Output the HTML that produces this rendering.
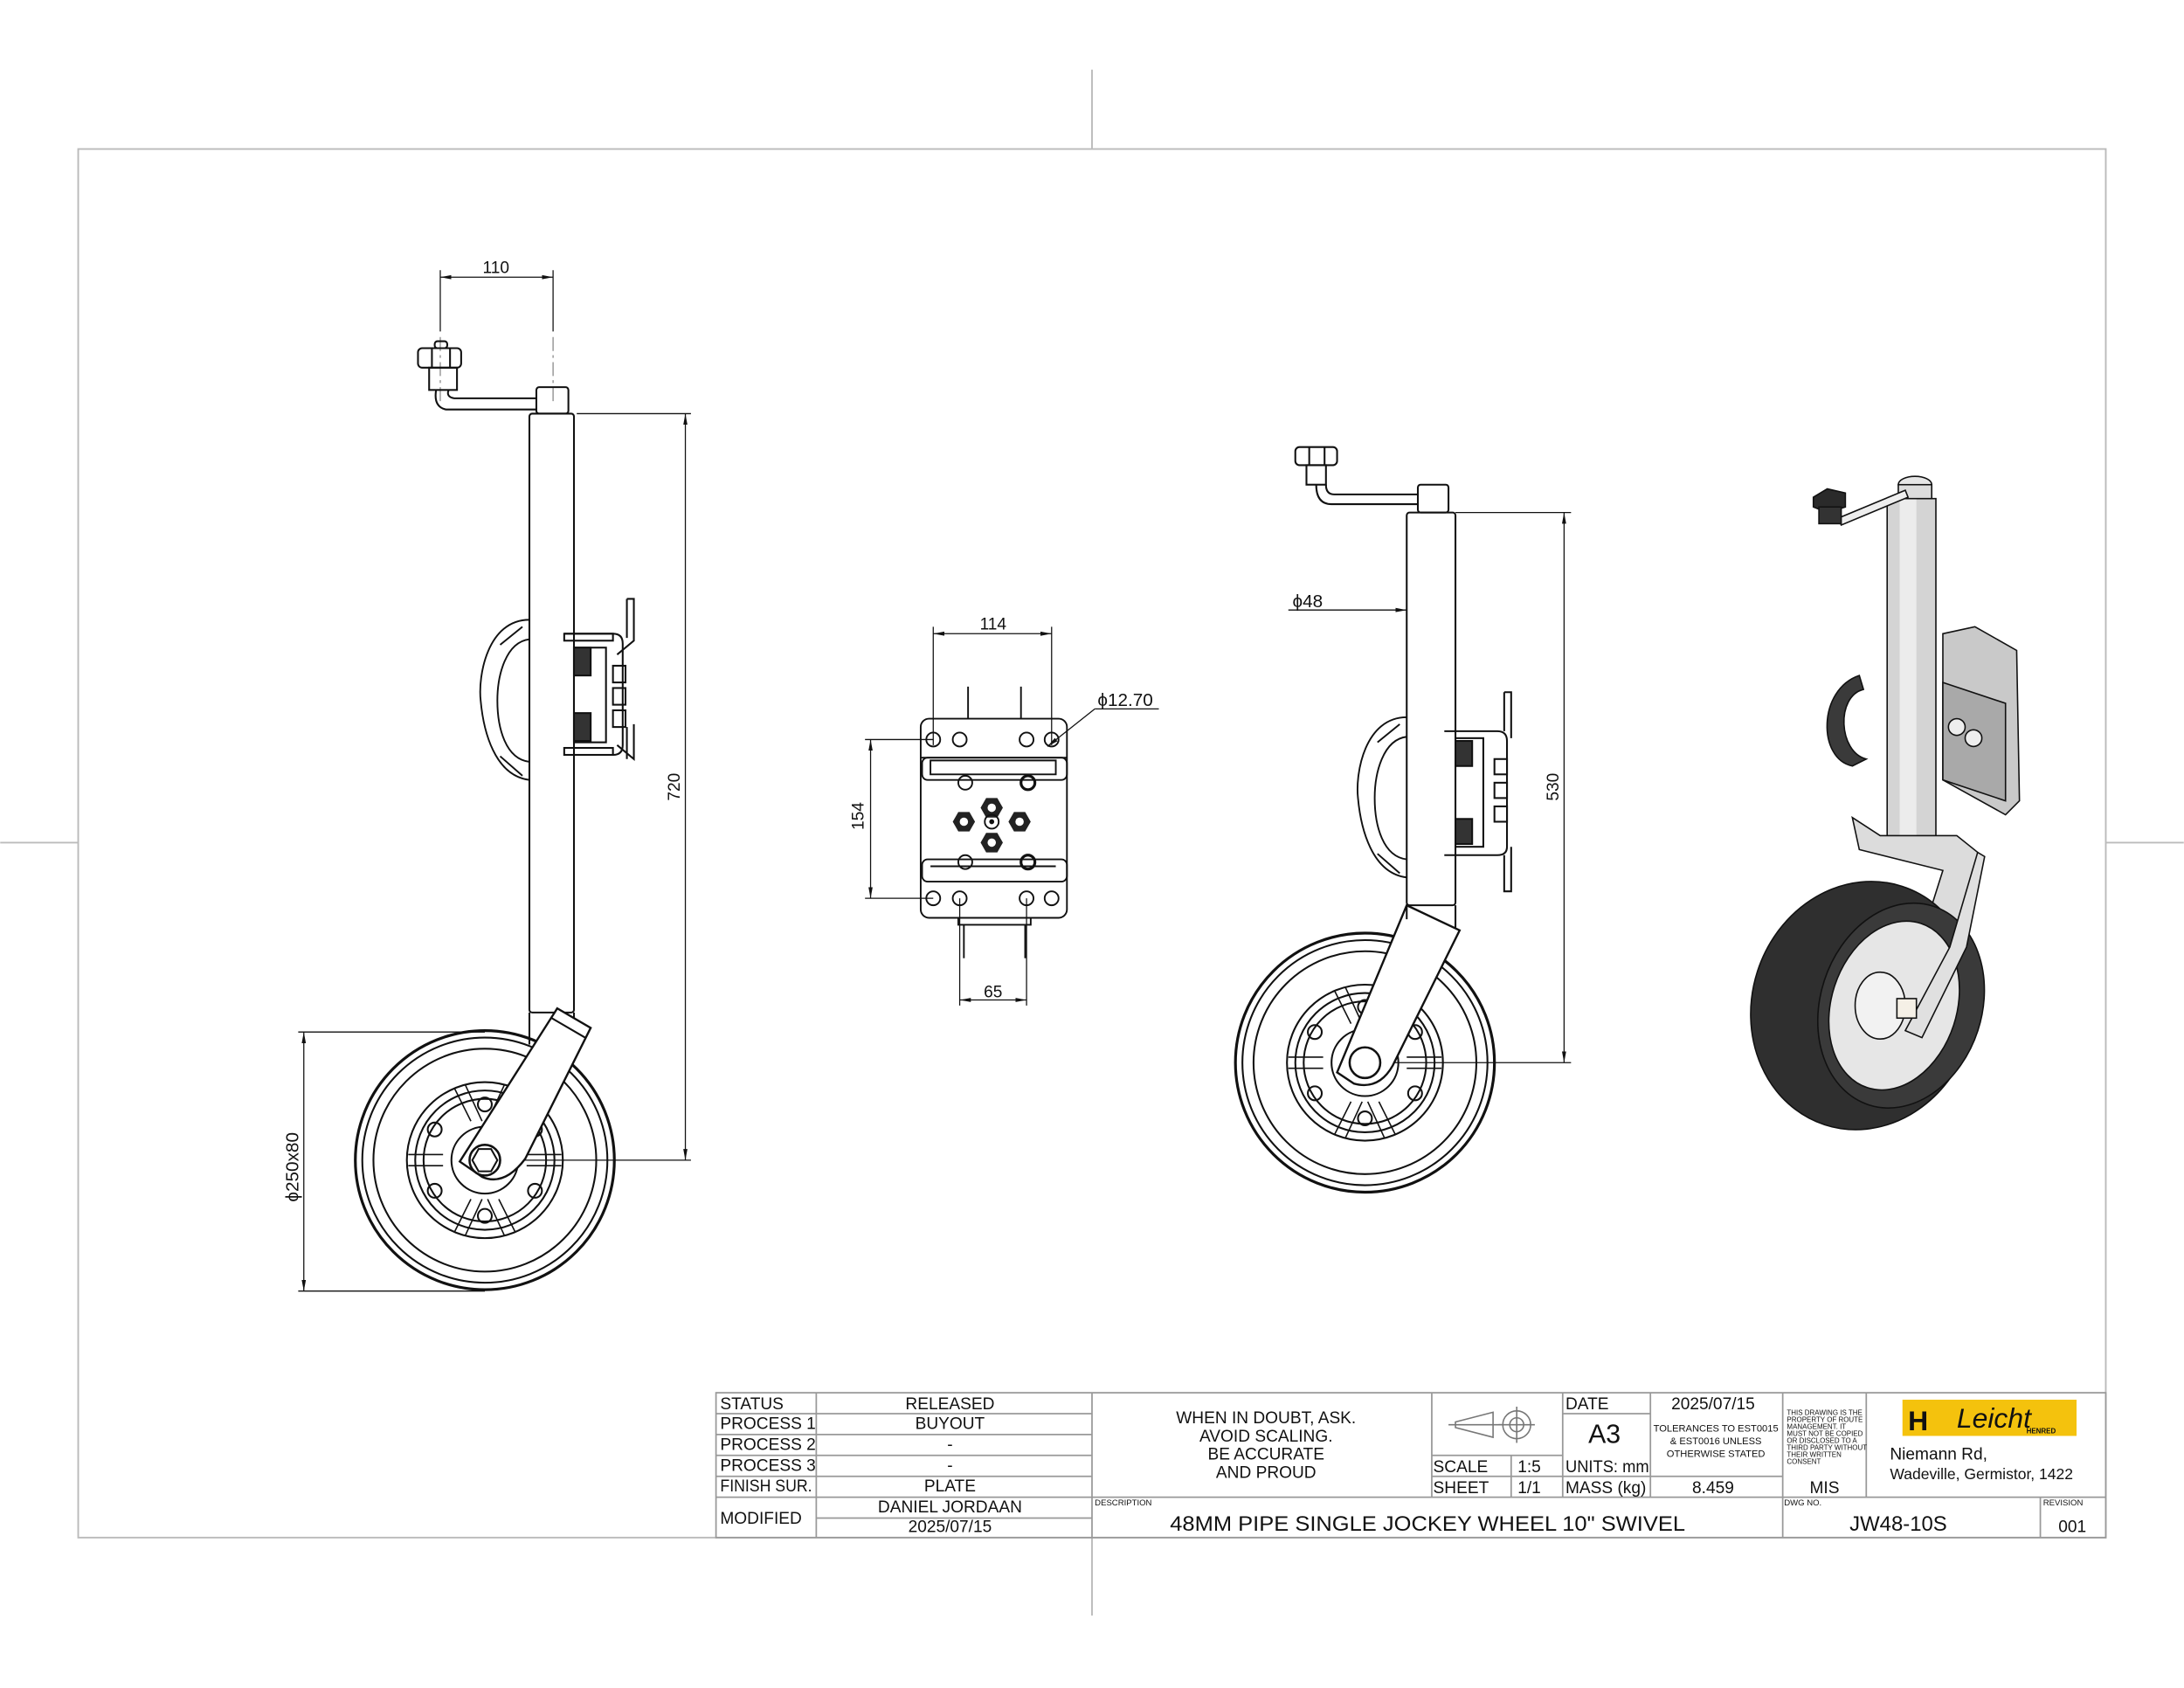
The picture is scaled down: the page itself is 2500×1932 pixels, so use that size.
<!DOCTYPE html>
<html><head><meta charset="utf-8"><style>
html,body{margin:0;padding:0;background:#fff}
svg{display:block}
text{font-family:"Liberation Sans",sans-serif;fill:#111}
</style></head><body>
<svg width="2500" height="1932" viewBox="0 0 1568 1212" xmlns="http://www.w3.org/2000/svg">
<defs>
<marker id="ar" markerWidth="8" markerHeight="6" refX="8" refY="3" orient="auto-start-reverse" markerUnits="userSpaceOnUse"><path d="M0,1.5 L8,3 L0,4.5z" fill="#111"/></marker>
<g id="wheel" fill="none" stroke="#111" stroke-width="1.3">
<circle r="93" stroke-width="2"/><circle r="88"/><circle r="80"/>
<circle r="56"/><circle r="50"/><circle r="44"/><circle r="24"/>
<g stroke-width="1">
<path d="M-10,-28 L-22,-52 M-2,-28 L-14,-54 M10,-28 L22,-52 M2,-28 L14,-54"/>
<path d="M-30,-4 L-55,-4 M-30,4 L-55,4 M30,-4 L55,-4 M30,4 L55,4"/>
<path d="M-10,28 L-22,52 M-2,28 L-14,54 M10,28 L22,52 M2,28 L14,54"/>
</g>
<circle cx="-36" cy="-22" r="5"/><circle cx="36" cy="-22" r="5"/><circle cx="-36" cy="22" r="5"/><circle cx="36" cy="22" r="5"/><circle cx="0" cy="40" r="5"/><circle cx="0" cy="-40" r="5"/>
<circle r="11" stroke-width="1.6"/><polygon points="9,0 4.5,8 -4.5,8 -9,0 -4.5,-8 4.5,-8"/>
</g>
<g id="handle" fill="none" stroke="#111" stroke-width="1.2">
<path d="M35,0 C5,0 -2,40 0,58 C2,80 10,112 35,115"/>
<path d="M35,14 C18,16 12,40 12,58 C12,78 18,100 35,102"/>
<path d="M14,18 L30,5 M14,98 L30,112"/>
</g>
</defs>

<g stroke="#bbb" stroke-width="1.2" fill="none">
<rect x="56" y="107" width="1456" height="997"/>
<line x1="784" y1="50" x2="784" y2="107"/><line x1="784" y1="1104" x2="784" y2="1160"/>
<line x1="0" y1="605" x2="56" y2="605"/><line x1="1512" y1="605" x2="1568" y2="605"/>
</g>

<g fill="none" stroke="#111" stroke-width="1.3">
<line x1="316" y1="199" x2="397" y2="199" marker-start="url(#ar)" marker-end="url(#ar)" stroke-width="0.8"/>
<line x1="316" y1="194" x2="316" y2="238" stroke-width="0.8"/><line x1="397" y1="194" x2="397" y2="238" stroke-width="0.8"/>
<line x1="316" y1="242" x2="316" y2="290" stroke="#888" stroke-dasharray="10,3,2,3" stroke-width="0.8"/>
<line x1="397" y1="242" x2="397" y2="290" stroke="#888" stroke-dasharray="10,3,2,3" stroke-width="0.8"/>
<rect x="300" y="250" width="31" height="14" rx="3"/><line x1="310" y1="250" x2="310" y2="264"/><line x1="323" y1="250" x2="323" y2="264"/>
<rect x="312" y="245" width="9" height="5" rx="2"/>
<rect x="308" y="264" width="20" height="16"/>
<path d="M313,280 Q311,292 320,294 L385,294 M322,280 Q320,285 326,286 L385,286"/>
<rect x="385" y="278" width="23" height="19" rx="2"/>
<rect x="380" y="297" width="32" height="430" rx="2"/>
<use href="#handle" x="345" y="445"/>
<path d="M405,455 L440,455 Q447,455 447,462 L447,535 Q447,542 440,542 L405,542"/>
<rect x="405" y="455" width="35" height="5"/><rect x="405" y="537" width="35" height="5"/>
<path d="M450,430 L455,430 L455,460 L443,470 M450,430 L450,458 M455,520 L455,545 L443,535 M450,522 L450,545"/>
<rect x="412" y="465" width="23" height="68" fill="#fff"/>
<rect x="412" y="465" width="12" height="20" fill="#333"/><rect x="412" y="512" width="12" height="20" fill="#333"/>
<rect x="440" y="478" width="9" height="12"/><rect x="440" y="494" width="9" height="12"/><rect x="440" y="510" width="9" height="12"/>
<line x1="414" y1="297" x2="496" y2="297" stroke-width="0.8"/>
<line x1="492" y1="297" x2="492" y2="833" marker-start="url(#ar)" marker-end="url(#ar)" stroke-width="0.8"/>
<line x1="350" y1="833" x2="496" y2="833" stroke-width="0.8"/>
<use href="#wheel" x="348" y="833"/>
<path d="M380,727 L380,750 M412,727 L412,743" />
<path d="M400,724 L424,738 L377,832 Q362,852 346,845 L330,834 Z" fill="#fff" stroke-width="1.5"/>
<line x1="396" y1="731" x2="420" y2="745"/>
<circle cx="348" cy="833" r="11" fill="#fff" stroke-width="1.6"/><polygon points="357,833 352.5,841 343.5,841 339,833 343.5,825 352.5,825"/>
<line x1="214" y1="741" x2="348" y2="741" stroke-width="0.8"/><line x1="214" y1="927" x2="348" y2="927" stroke-width="0.8"/>
<line x1="218" y1="741" x2="218" y2="927" marker-start="url(#ar)" marker-end="url(#ar)" stroke-width="0.8"/>
</g>
<text x="356" y="196" font-size="12" text-anchor="middle">110</text>
<text transform="translate(488,565) rotate(-90)" font-size="12" text-anchor="middle">720</text>
<text transform="translate(214,838) rotate(-90)" font-size="13" text-anchor="middle">ϕ250x80</text>

<g fill="none" stroke="#111" stroke-width="1.2">
<rect x="661" y="516" width="105" height="143" rx="6"/>
<line x1="670" y1="455" x2="755" y2="455" marker-start="url(#ar)" marker-end="url(#ar)" stroke-width="0.8"/>
<line x1="670" y1="450" x2="670" y2="535" stroke-width="0.8"/><line x1="755" y1="450" x2="755" y2="535" stroke-width="0.8"/>
<line x1="695" y1="493" x2="695" y2="516"/><line x1="733" y1="493" x2="733" y2="516"/>
<line x1="621" y1="531" x2="670" y2="531" stroke-width="0.8"/><line x1="621" y1="645" x2="670" y2="645" stroke-width="0.8"/>
<line x1="625" y1="531" x2="625" y2="645" marker-start="url(#ar)" marker-end="url(#ar)" stroke-width="0.8"/>
<g>
<circle cx="670" cy="531" r="5"/><circle cx="689" cy="531" r="5"/><circle cx="737" cy="531" r="5"/><circle cx="755" cy="531" r="5"/>
<circle cx="670" cy="645" r="5"/><circle cx="689" cy="645" r="5"/><circle cx="737" cy="645" r="5"/><circle cx="755" cy="645" r="5"/>
<circle cx="693" cy="562" r="5"/><circle cx="738" cy="562" r="5" stroke-width="2"/><circle cx="693" cy="619" r="5"/><circle cx="738" cy="619" r="5" stroke-width="2"/>
</g>
<path d="M661,544 L766,544 M668,546 L758,546 L758,556 L668,556 Z"/>
<rect x="662" y="544" width="104" height="16" rx="4"/>
<rect x="662" y="617" width="104" height="16" rx="4"/>
<line x1="668" y1="622" x2="758" y2="622"/>
<rect x="688" y="659" width="52" height="5"/>
<line x1="692" y1="664" x2="692" y2="688"/><line x1="736" y1="664" x2="736" y2="688"/>
<line x1="689" y1="645" x2="689" y2="722" stroke-width="0.8"/><line x1="737" y1="645" x2="737" y2="722" stroke-width="0.8"/>
<line x1="689" y1="718" x2="737" y2="718" marker-start="url(#ar)" marker-end="url(#ar)" stroke-width="0.8"/>
<line x1="752" y1="536" x2="786" y2="509" stroke-width="0.8" marker-start="url(#ar)"/><line x1="786" y1="509" x2="832" y2="509" stroke-width="0.8"/>
<g fill="#222" stroke="none">
<polygon points="720,580 716,587 708,587 704,580 708,573 716,573"/>
<polygon points="700,590 696,597 688,597 684,590 688,583 696,583"/>
<polygon points="740,590 736,597 728,597 724,590 728,583 736,583"/>
<polygon points="720,605 716,612 708,612 704,605 708,598 716,598"/>
</g>
<g fill="#fff" stroke="none"><circle cx="712" cy="580" r="3"/><circle cx="692" cy="590" r="3"/><circle cx="732" cy="590" r="3"/><circle cx="712" cy="605" r="3"/></g>
<circle cx="712" cy="590" r="5"/><circle cx="712" cy="590" r="1.2" fill="#111"/>
</g>
<text x="713" y="452" font-size="12" text-anchor="middle">114</text>
<text x="788" y="507" font-size="13">ϕ12.70</text>
<text transform="translate(620,586) rotate(-90)" font-size="12" text-anchor="middle">154</text>
<text x="713" y="716" font-size="12" text-anchor="middle">65</text>

<g fill="none" stroke="#111" stroke-width="1.3">
<rect x="930" y="321" width="30" height="13" rx="3"/><line x1="940" y1="321" x2="940" y2="334"/><line x1="951" y1="321" x2="951" y2="334"/>
<rect x="938" y="334" width="14" height="14"/>
<path d="M945,348 Q945,362 956,362 L1018,362 M952,348 Q952,355 958,355 L1018,355"/>
<rect x="1018" y="348" width="22" height="20" rx="2"/>
<rect x="1010" y="368" width="35" height="282" rx="2"/>
<line x1="925" y1="438" x2="1010" y2="438" stroke-width="0.8" marker-end="url(#ar)"/>
<use href="#handle" x="975" y="515"/>
<path d="M1037,525 L1075,525 Q1082,525 1082,532 L1082,608 Q1082,614 1075,614 L1037,614"/>
<rect x="1045" y="530" width="20" height="78" fill="#fff"/>
<rect x="1045" y="532" width="12" height="18" fill="#333"/><rect x="1045" y="588" width="12" height="18" fill="#333"/>
<path d="M1080,497 L1085,497 L1085,530 M1080,497 L1080,525 M1085,608 L1085,640 L1080,640 L1080,614"/>
<rect x="1073" y="545" width="9" height="11"/><rect x="1073" y="562" width="9" height="11"/><rect x="1073" y="579" width="9" height="11"/>
<line x1="1045" y1="368" x2="1128" y2="368" stroke-width="0.8"/>
<line x1="1123" y1="368" x2="1123" y2="763" marker-start="url(#ar)" marker-end="url(#ar)" stroke-width="0.8"/>
<line x1="980" y1="763" x2="1128" y2="763" stroke-width="0.8"/>
<use href="#wheel" x="980" y="763"/>
<path d="M1010,650 L1048,668 L1000,765 Q990,783 972,778 L960,770 Z" fill="#fff" stroke-width="1.5"/>
<path d="M1010,650 L1010,660 M1045,650 L1045,666"/>
<circle cx="980" cy="763" r="11" fill="#fff" stroke-width="1.6"/>
</g>
<text x="928" y="436" font-size="13">ϕ48</text>
<text transform="translate(1119,565) rotate(-90)" font-size="12" text-anchor="middle">530</text>

<g stroke="#111" stroke-width="1">
<path d="M1418,450 L1448,467 L1450,575 L1440,585 L1395,560 L1395,455 Z" fill="#c9c9c9"/>
<path d="M1395,490 L1440,505 L1440,575 L1395,560 Z" fill="#a9a9a9"/>
<circle cx="1405" cy="522" r="6" fill="#eee"/><circle cx="1417" cy="530" r="6" fill="#eee"/>
<path d="M1335,485 C1305,495 1305,545 1330,550 L1340,545 C1320,540 1318,500 1338,495 Z" fill="#3a3a3a"/>
<rect x="1355" y="358" width="35" height="252" fill="#d4d4d4"/>
<rect x="1364" y="358" width="12" height="252" fill="#ececec" stroke="none"/>
<ellipse cx="1375" cy="348" rx="12" ry="6" fill="#e6e6e6"/>
<rect x="1363" y="348" width="24" height="10" fill="#ddd"/>
<path d="M1368,352 L1320,372 L1322,377 L1370,357 Z" fill="#eee"/>
<path d="M1302,357 L1312,351 L1325,354 L1325,364 L1312,368 L1302,364 Z" fill="#2a2a2a"/>
<rect x="1306" y="364" width="16" height="12" fill="#333"/>
<path d="M1330,587 L1350,600 L1405,600 L1420,612 L1410,670 L1380,725 L1365,720 L1395,625 L1335,610 Z" fill="#dcdcdc"/>
<ellipse cx="1338" cy="722" rx="80" ry="90" transform="rotate(18 1338 722)" fill="#2f2f2f"/>
<ellipse cx="1365" cy="722" rx="58" ry="75" transform="rotate(18 1365 722)" fill="#3a3a3a"/>
<ellipse cx="1360" cy="722" rx="45" ry="62" transform="rotate(18 1360 722)" fill="#e6e6e6"/>
<ellipse cx="1350" cy="722" rx="18" ry="24" fill="#f2f2f2"/>
<path d="M1420,612 L1400,680 L1368,740 L1380,745 L1412,680 L1425,615 Z" fill="#e0e0e0"/>
<rect x="1362" y="717" width="14" height="14" fill="#f5f0e6"/>
</g>

<g stroke="#999" stroke-width="1.1" fill="none">
<rect x="514" y="1000" width="998" height="104"/>
<line x1="514" y1="1075" x2="1512" y2="1075"/>
<line x1="514" y1="1015" x2="784" y2="1015"/><line x1="514" y1="1030" x2="784" y2="1030"/>
<line x1="514" y1="1045" x2="784" y2="1045"/><line x1="514" y1="1060" x2="784" y2="1060"/>
<line x1="586" y1="1090" x2="784" y2="1090"/>
<line x1="586" y1="1000" x2="586" y2="1104"/><line x1="784" y1="1000" x2="784" y2="1104"/>
<line x1="1028" y1="1000" x2="1028" y2="1075"/>
<line x1="1028" y1="1045" x2="1122" y2="1045"/><line x1="1028" y1="1060" x2="1280" y2="1060"/>
<line x1="1085" y1="1045" x2="1085" y2="1075"/>
<line x1="1122" y1="1000" x2="1122" y2="1075"/>
<line x1="1122" y1="1015" x2="1185" y2="1015"/>
<line x1="1185" y1="1000" x2="1185" y2="1075"/>
<line x1="1280" y1="1000" x2="1280" y2="1104"/><line x1="1340" y1="1000" x2="1340" y2="1075"/>
<line x1="1465" y1="1075" x2="1465" y2="1104"/>
</g>
<g font-size="12">
<text x="517" y="1012">STATUS</text><text x="682" y="1012" text-anchor="middle">RELEASED</text>
<text x="517" y="1026">PROCESS 1</text><text x="682" y="1026" text-anchor="middle">BUYOUT</text>
<text x="517" y="1041">PROCESS 2</text><text x="682" y="1041" text-anchor="middle">-</text>
<text x="517" y="1056">PROCESS 3</text><text x="682" y="1056" text-anchor="middle">-</text>
<text x="517" y="1071" textLength="66" lengthAdjust="spacingAndGlyphs">FINISH SUR.</text><text x="682" y="1071" text-anchor="middle">PLATE</text>
<text x="517" y="1094">MODIFIED</text><text x="682" y="1086" text-anchor="middle">DANIEL JORDAAN</text><text x="682" y="1100" text-anchor="middle">2025/07/15</text>
<text x="909" y="1022" text-anchor="middle">WHEN IN DOUBT, ASK.</text>
<text x="909" y="1035" text-anchor="middle">AVOID SCALING.</text>
<text x="909" y="1048" text-anchor="middle">BE ACCURATE</text>
<text x="909" y="1061" text-anchor="middle">AND PROUD</text>
<text x="1029" y="1057">SCALE</text><text x="1098" y="1057" text-anchor="middle">1:5</text>
<text x="1029" y="1072">SHEET</text><text x="1098" y="1072" text-anchor="middle">1/1</text>
<text x="1124" y="1012">DATE</text><text x="1230" y="1012" text-anchor="middle">2025/07/15</text>
<text x="1124" y="1057" textLength="60" lengthAdjust="spacingAndGlyphs">UNITS: mm</text>
<text x="1124" y="1072">MASS (kg)</text><text x="1230" y="1072" text-anchor="middle">8.459</text>
<text x="1310" y="1072" text-anchor="middle">MIS</text>
<text x="1357" y="1048">Niemann Rd,</text>
<text x="1357" y="1062" font-size="11">Wadeville, Germistor, 1422</text>
<text x="1025" y="1099" font-size="15" text-anchor="middle" textLength="370" lengthAdjust="spacingAndGlyphs">48MM PIPE SINGLE JOCKEY WHEEL 10" SWIVEL</text>
<text x="1363" y="1099" font-size="15" text-anchor="middle">JW48-10S</text>
<text x="1488" y="1100" text-anchor="middle">001</text>
</g>
<text x="1152" y="1036" font-size="19" text-anchor="middle">A3</text>
<g font-size="6">
<text x="786" y="1081">DESCRIPTION</text><text x="1281" y="1081">DWG NO.</text><text x="1467" y="1081">REVISION</text>
<text x="1232" y="1028" text-anchor="middle" font-size="7">TOLERANCES TO EST0015</text>
<text x="1232" y="1037" text-anchor="middle" font-size="7">&amp; EST0016 UNLESS</text>
<text x="1232" y="1046" text-anchor="middle" font-size="7">OTHERWISE STATED</text>
<text x="1283" y="1016" font-size="5">THIS DRAWING IS THE</text><text x="1283" y="1021" font-size="5">PROPERTY OF ROUTE</text>
<text x="1283" y="1026" font-size="5">MANAGEMENT. IT</text><text x="1283" y="1031" font-size="5">MUST NOT BE COPIED</text>
<text x="1283" y="1036" font-size="5">OR DISCLOSED TO A</text><text x="1283" y="1041" font-size="5">THIRD PARTY WITHOUT</text>
<text x="1283" y="1046" font-size="5">THEIR WRITTEN</text><text x="1283" y="1051" font-size="5">CONSENT</text>
</g>
<g fill="none" stroke="#777" stroke-width="1">
<path d="M1045,1021 L1072,1014 L1072,1032 L1045,1025 Z"/><line x1="1040" y1="1023" x2="1078" y2="1023"/>
<circle cx="1089" cy="1023" r="10"/><circle cx="1089" cy="1023" r="5"/><line x1="1076" y1="1023" x2="1102" y2="1023"/><line x1="1089" y1="1010" x2="1089" y2="1036"/>
</g>
<rect x="1366" y="1005" width="125" height="26" fill="#f4c20d"/>
<text x="1370" y="1027" font-size="20" font-weight="bold">H</text>
<text x="1405" y="1025" font-size="20" font-style="italic" font-family="Liberation Serif,serif">Leicht</text>
<text x="1455" y="1029" font-size="5" font-weight="bold">HENRED</text>
</svg>
</body></html>
